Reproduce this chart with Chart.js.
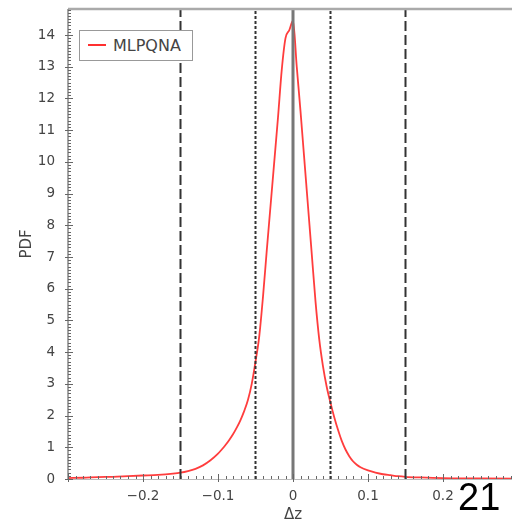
<!DOCTYPE html>
<html>
<head>
<meta charset="utf-8">
<script src="https://cdn.jsdelivr.net/npm/chart.js@4"></script>
<style>
  body { margin: 0; width: 512px; height: 529px; overflow: hidden; background: #fff; position: relative; }
  #legend { position: absolute; left: 79px; top: 30px; width: 114px; height: 31px; box-sizing: border-box;
            border: 1px solid #999; background: #fff; font: 16px "DejaVu Sans", sans-serif; color: #444; }
  #legend .swatch { position: absolute; left: 8px; top: 13px; width: 18px; height: 2px; background: #ff3030; }
  #legend .label { position: absolute; left: 33px; top: 5px; line-height: 19px; }
  #pageno { position: absolute; left: 458px; top: 478px; font: 38px "Liberation Sans", Arial, sans-serif; line-height: 38px; color: #000; }
</style>
</head>
<body>
<canvas id="pdf-chart" width="530" height="529"></canvas>
<div id="legend"><span class="swatch"></span><span class="label">MLPQNA</span></div>
<div id="pageno">21</div>
<script>
// residuals (delta z) and the PDF
const dzValues = [-0.30, -0.28, -0.26, -0.24, -0.22, -0.20, -0.18, -0.16, -0.15, -0.14, -0.13, -0.12, -0.11,
  -0.10, -0.095, -0.09, -0.085, -0.08, -0.075, -0.07, -0.065, -0.06, -0.055, -0.05, -0.045, -0.04, -0.035,
  -0.03, -0.025, -0.02, -0.015, -0.01, -0.005, 0, 0.005, 0.01, 0.015, 0.02, 0.025, 0.03, 0.035, 0.04,
  0.045, 0.05, 0.055, 0.06, 0.065, 0.07, 0.075, 0.08, 0.085, 0.09, 0.10, 0.11, 0.12, 0.13, 0.14, 0.15,
  0.17, 0.20, 0.25, 0.30];
const pdfValues = [0.03, 0.04, 0.06, 0.07, 0.09, 0.11, 0.13, 0.17, 0.20, 0.25, 0.32, 0.43, 0.59,
  0.80, 0.93, 1.07, 1.23, 1.41, 1.62, 1.86, 2.15, 2.50, 3.00, 3.70, 4.50, 5.75, 7.20,
  8.60, 10.0, 11.4, 12.9, 13.9, 14.15, 14.45, 13.0, 11.6, 10.1, 8.6, 7.1, 5.6, 4.4, 3.55,
  2.90, 2.40, 1.95, 1.55, 1.20, 0.93, 0.72, 0.56, 0.45, 0.37, 0.27, 0.20, 0.15, 0.12, 0.09, 0.07,
  0.05, 0.03, 0.02, 0.01];

const xTickValues = [-0.2, -0.1, 0, 0.1, 0.2];
const yTickValues = [0, 1, 2, 3, 4, 5, 6, 7, 8, 9, 10, 11, 12, 13, 14];
const limitLines = [-0.15, -0.05, 0, 0.05, 0.15];

const xMin = -0.3, xMax = 0.3, yMax = 14.82;

function lineStyle(v) {
  if (v === 0) return { borderColor: '#777', borderWidth: 3, borderDash: [] };
  if (Math.abs(v) < 0.1) return { borderColor: '#333', borderWidth: 2, borderDash: [3, 2] };
  return { borderColor: '#333', borderWidth: 2, borderDash: [10, 4] };
}

const curve = {
  label: 'MLPQNA',
  data: dzValues.map((d, i) => ({ x: d, y: pdfValues[i] })),
  showLine: true,
  pointRadius: 0,
  borderColor: 'rgba(255, 40, 40, 0.9)',
  borderWidth: 1.8,
  cubicInterpolationMode: 'monotone',
  order: 2
};

const refLines = limitLines.map(v => Object.assign({
  label: 'limit ' + v,
  data: [{ x: v, y: 0 }, { x: v, y: yMax }],
  showLine: true,
  pointRadius: 0,
  order: 1
}, lineStyle(v)));

function fmtX(v) {
  if (Math.abs(v) < 1e-9) return '0';
  return (v < 0 ? '\u2212' : '') + Math.abs(v).toFixed(1);
}

// spines and inward ticks, matplotlib style
const frame = {
  id: 'frame',
  afterDatasetsDraw(chart) {
    const { ctx, chartArea: a, scales: { x, y } } = chart;
    ctx.save();
    ctx.strokeStyle = '#bbb';
    ctx.lineWidth = 1;
    ctx.beginPath(); ctx.moveTo(a.left, a.bottom + 0.5); ctx.lineTo(a.right, a.bottom + 0.5); ctx.stroke();
    ctx.strokeStyle = '#aaa';
    ctx.lineWidth = 2.5;
    ctx.beginPath(); ctx.moveTo(a.left, a.top); ctx.lineTo(a.right, a.top); ctx.stroke();
    ctx.strokeStyle = '#888';
    ctx.lineWidth = 1.5;
    ctx.beginPath(); ctx.moveTo(a.left, a.top); ctx.lineTo(a.left, a.bottom); ctx.stroke();

    ctx.strokeStyle = '#666';
    ctx.lineWidth = 1;
    for (let i = -30; i <= 30; i++) {
      const px = Math.round(x.getPixelForValue(i / 100)) + 0.5;
      const major = i % 10 === 0;
      ctx.beginPath();
      ctx.moveTo(px, a.bottom + (major ? 3 : 0));
      ctx.lineTo(px, a.bottom - (major ? 5 : 3));
      ctx.stroke();
    }
    for (let j = 0; j <= 148; j++) {
      const py = Math.round(y.getPixelForValue(j / 10)) + 0.5;
      const major = j % 10 === 0;
      ctx.beginPath();
      ctx.moveTo(a.left - (major ? 3 : 0), py);
      ctx.lineTo(a.left + (major ? 5 : 3), py);
      ctx.stroke();
    }
    ctx.restore();
  }
};

const tickFont = { family: 'DejaVu Sans', size: 13.5 };
const titleFont = { family: 'DejaVu Sans', size: 15 };

new Chart(document.getElementById('pdf-chart').getContext('2d'), {
  type: 'scatter',
  data: { datasets: [curve, ...refLines] },
  options: {
    responsive: false,
    animation: false,
    devicePixelRatio: 1,
    layout: { padding: { top: 9, right: 12, left: 0, bottom: 0 } },
    plugins: { legend: { display: false }, tooltip: { enabled: false } },
    scales: {
      x: {
        type: 'linear', min: xMin, max: xMax,
        grid: { display: false, drawTicks: false },
        border: { display: false },
        afterBuildTicks: s => { s.ticks = xTickValues.map(v => ({ value: v })); },
        afterFit: s => { s.height = 50; s.paddingLeft = 0; s.paddingRight = 0; },
        ticks: { padding: 9, color: '#444', font: tickFont, maxRotation: 0, autoSkip: false, callback: fmtX },
        title: { display: true, text: '\u0394z', color: '#444', font: titleFont, padding: { top: 0, bottom: 5 } }
      },
      y: {
        type: 'linear', min: 0, max: yMax,
        grid: { display: false, drawTicks: false },
        border: { display: false },
        afterBuildTicks: s => { s.ticks = yTickValues.map(v => ({ value: v })); },
        afterFit: s => { s.width = 68; s.paddingTop = 0; s.paddingBottom = 0; },
        ticks: { padding: 13, color: '#444', font: tickFont, autoSkip: false, callback: v => String(v) },
        title: { display: true, text: 'PDF', color: '#444', font: titleFont, padding: { top: 18, bottom: 0 } }
      }
    }
  },
  plugins: [frame]
});
</script>
</body>
</html>
